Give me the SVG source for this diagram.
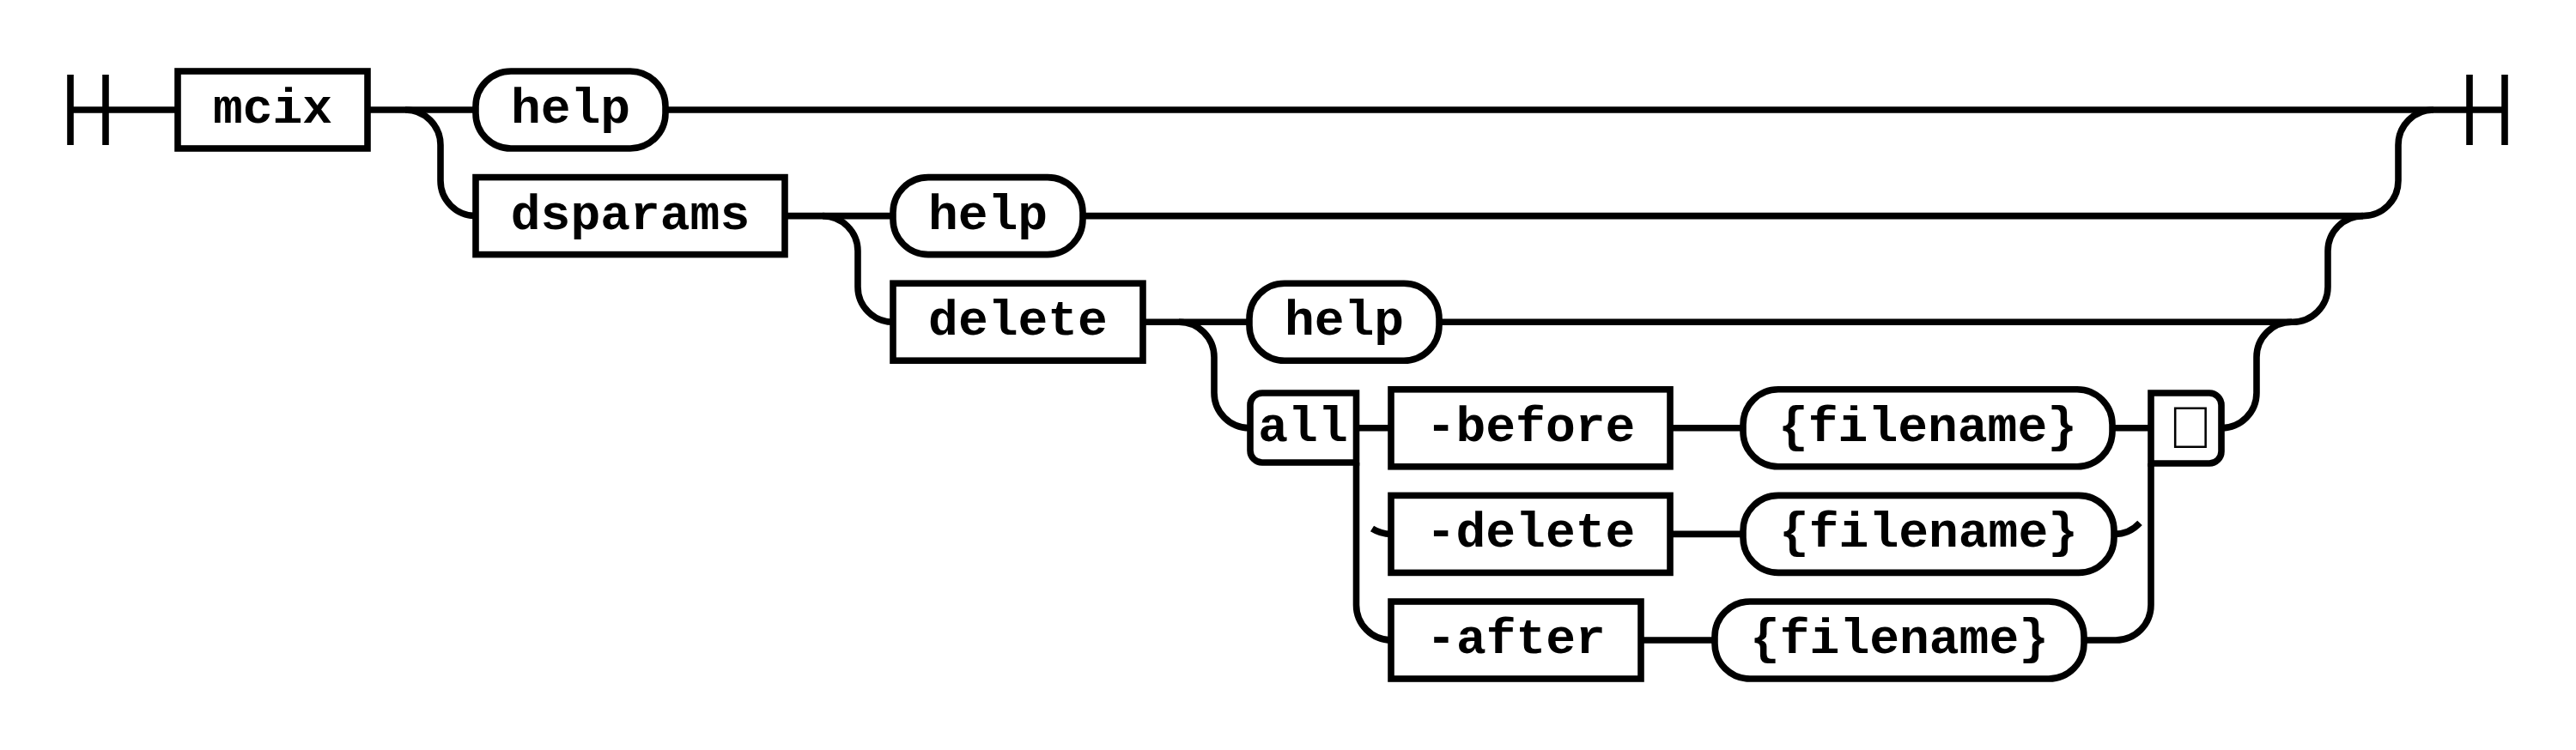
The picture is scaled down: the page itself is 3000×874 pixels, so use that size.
<svg xmlns="http://www.w3.org/2000/svg" width="3000" height="874" viewBox="0 0 3000 874">
<style>
.ln{fill:none;stroke:#000;stroke-width:7.6}
.bx{fill:#fff;stroke:#000;stroke-width:7.6}
.t{font-family:"Liberation Mono","Courier New",monospace;font-weight:bold;font-size:58px;fill:#000;text-anchor:middle}
.tofu{font-family:"Liberation Sans",Arial,sans-serif;font-weight:bold;font-size:69px;fill:#000}
</style>
<rect width="3000" height="874" fill="#fff"/>
<g id="connectors" class="ln">
<path d="M82,87V169M123,87V169M82,128H207"/>
<path d="M428,128H2917M2876,87V169M2917,87V169"/>
<path d="M472,128A41,41 0 0 1 513,169V210.6A41,41 0 0 0 554,251.6"/>
<path d="M2752,251.6A41,41 0 0 0 2793,210.6V169A41,41 0 0 1 2834,128"/>
<path d="M914,251.6H2752"/>
<path d="M958,251.6A41,41 0 0 1 999,292.6V334.2A41,41 0 0 0 1040,375.2"/>
<path d="M2670,375.2A41,41 0 0 0 2711,334.2V292.6A41,41 0 0 1 2752,251.6"/>
<path d="M1331,375.2H2670"/>
<path d="M1373,375.2A41,41 0 0 1 1414,416.2V457.8A41,41 0 0 0 1455,498.8"/>
<path d="M2587,498.8A41,41 0 0 0 2628,457.8V416.2A41,41 0 0 1 2669,375.2"/>
<path d="M1579.5,498.8H2505"/>
<path d="M1579.5,539V705A41,41 0 0 0 1620.5,746"/>
<path d="M1598,616A41,41 0 0 0 1620,622.4"/>
<path d="M1945,622.4H2030"/>
<path d="M2462,622.4A41,41 0 0 0 2492,609.3"/>
<path d="M1911,746H2464A41,41 0 0 0 2505,705V540"/>
</g>
<g id="node-mcix"><rect class="bx" x="207" y="83" width="221" height="90"/><text class="t" x="317.5" y="143">mcix</text></g>
<g id="node-help1"><rect class="bx" x="554" y="83" width="221" height="90" rx="41"/><text class="t" x="664.5" y="143">help</text></g>
<g id="node-dsparams"><rect class="bx" x="554" y="206.6" width="360" height="90"/><text class="t" x="734" y="266.6">dsparams</text></g>
<g id="node-help2"><rect class="bx" x="1040" y="206.6" width="221" height="90" rx="41"/><text class="t" x="1150.5" y="266.6">help</text></g>
<g id="node-delete"><rect class="bx" x="1040" y="330.2" width="291" height="90"/><text class="t" x="1185.5" y="390.2">delete</text></g>
<g id="node-help3"><rect class="bx" x="1455" y="330.2" width="221" height="90" rx="41"/><text class="t" x="1565.5" y="390.2">help</text></g>
<g id="node-all"><path class="bx" d="M1579.5,458H1470A14,14 0 0 0 1456,472V525A14,14 0 0 0 1470,539H1579.5Z"/><text class="t" x="1517.5" y="513.8">all</text></g>
<g id="node-before"><rect class="bx" x="1620" y="453.8" width="325" height="90"/><text class="t" x="1782.5" y="513.8">-before</text></g>
<g id="node-filename1"><rect class="bx" x="2030" y="453.8" width="430" height="90" rx="41"/><text class="t" x="2245" y="513.8">{filename}</text></g>
<g id="node-tofu"><path class="bx" d="M2505,458H2573A14,14 0 0 1 2587,472V526A14,14 0 0 1 2573,540H2505Z"/><text class="tofu" x="2525" y="522">&#xE000;</text></g>
<g id="node-delete2"><rect class="bx" x="1620" y="577.4" width="325" height="90"/><text class="t" x="1782.5" y="637.4">-delete</text></g>
<g id="node-filename2"><rect class="bx" x="2030" y="577.4" width="432" height="90" rx="41"/><text class="t" x="2246" y="637.4">{filename}</text></g>
<g id="node-after"><rect class="bx" x="1620" y="701" width="291" height="90"/><text class="t" x="1765.5" y="761">-after</text></g>
<g id="node-filename3"><rect class="bx" x="1997" y="701" width="430" height="90" rx="41"/><text class="t" x="2212" y="761">{filename}</text></g>
</svg>
